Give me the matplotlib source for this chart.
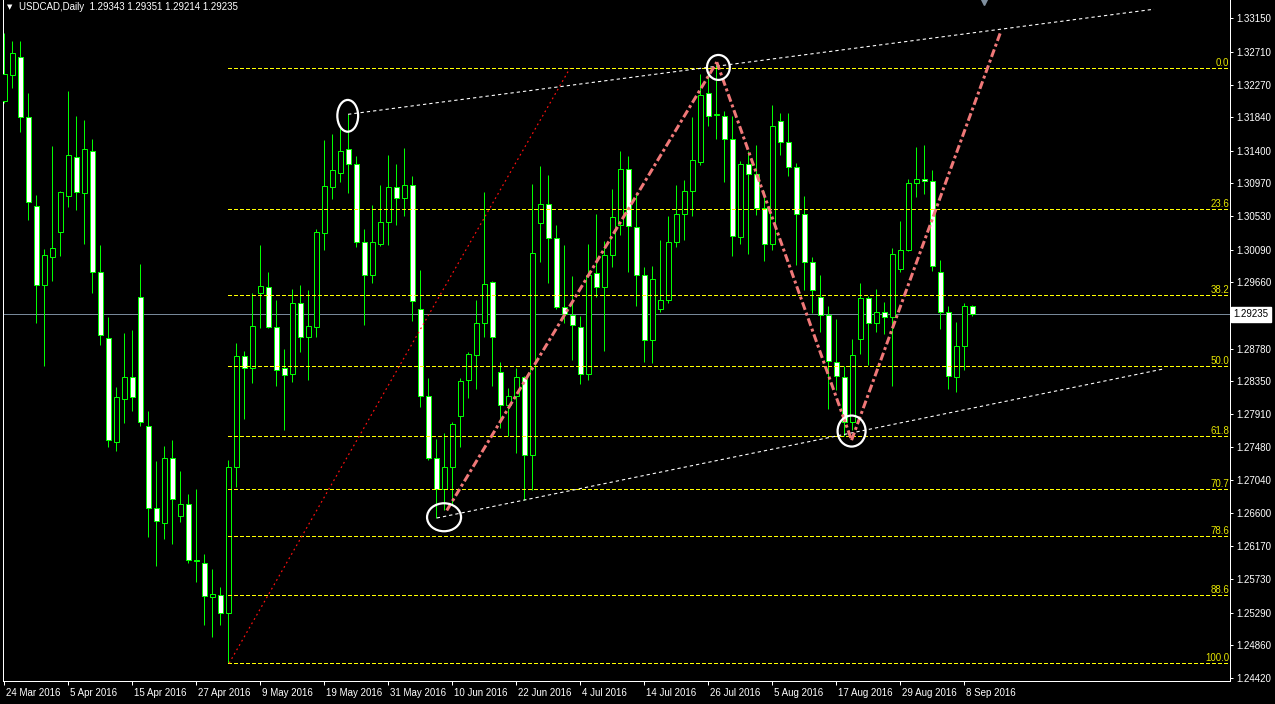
import matplotlib
matplotlib.use("Agg")
import matplotlib.pyplot as plt
import matplotlib.transforms as mtransforms
from matplotlib.patches import Ellipse

plt.rcParams['font.family'] = ['Liberation Sans', 'DejaVu Sans']
plt.rcParams['font.size'] = 7
plt.rcParams['lines.scale_dashes'] = False

# daily USDCAD candles, 24 Mar 2016 .. 9 Sep 2016
opens = [1.3205, 1.3240, 1.3264, 1.3184, 1.3067, 1.2962, 1.2999, 1.3032, 1.3080, 1.3132,
         1.3084, 1.3139, 1.2979, 1.2892, 1.2755, 1.2812, 1.2841, 1.2946, 1.2776, 1.2667,
         1.2648, 1.2733, 1.2656, 1.2673, 1.2599, 1.2595, 1.2549, 1.2552, 1.2528, 1.2722,
         1.2868, 1.2852, 1.2951, 1.2960, 1.2907, 1.2852, 1.2844, 1.2938, 1.2894, 1.2907,
         1.3031, 1.3092, 1.3111, 1.3142, 1.3122, 1.3019, 1.2976, 1.3016, 1.3046, 1.3092,
         1.3077, 1.3094, 1.2931, 1.2816, 1.2734, 1.2692, 1.2722, 1.2789, 1.2836, 1.2870,
         1.2912, 1.2966, 1.2847, 1.2804, 1.2816, 1.2841, 1.2738, 1.3044, 1.3070, 1.3024,
         1.2933, 1.2923, 1.2907, 1.2844, 1.2978, 1.2959, 1.3002, 1.3042, 1.3115, 1.3039,
         1.2976, 1.2890, 1.2931, 1.2943, 1.3019, 1.3056, 1.3086, 1.3125, 1.3216, 1.3187,
         1.3186, 1.3155, 1.3026, 1.3122, 1.3109, 1.3064, 1.3017, 1.3179, 1.3151, 1.3118,
         1.3056, 1.2992, 1.2947, 1.2922, 1.2861, 1.2841, 1.2781, 1.2891, 1.2945, 1.2912,
         1.2926, 1.2920, 1.2983, 1.3009, 1.3097, 1.3103, 1.3100, 1.2980, 1.2927, 1.2841,
         1.2882, 1.29343]
highs = [1.3295, 1.3285, 1.3285, 1.3216, 1.3081, 1.3010, 1.3146, 1.3087, 1.3219, 1.3186,
         1.3180, 1.3155, 1.3015, 1.2920, 1.2827, 1.2899, 1.2903, 1.2990, 1.2796, 1.2729,
         1.2749, 1.2757, 1.2716, 1.2686, 1.2693, 1.2606, 1.2587, 1.2563, 1.2731, 1.2885,
         1.2875, 1.2951, 1.3015, 1.2979, 1.2942, 1.2877, 1.2957, 1.2962, 1.2956, 1.3036,
         1.3154, 1.3162, 1.3170, 1.3188, 1.3133, 1.3036, 1.3068, 1.3095, 1.3134, 1.3122,
         1.3143, 1.3106, 1.2982, 1.2839, 1.2759, 1.2766, 1.2781, 1.2839, 1.2873, 1.2942,
         1.3085, 1.2967, 1.2860, 1.2826, 1.2852, 1.2842, 1.3096, 1.3120, 1.3108, 1.3042,
         1.3015, 1.2974, 1.2921, 1.3016, 1.3056, 1.3020, 1.3089, 1.3139, 1.3133, 1.3083,
         1.2986, 1.2987, 1.3022, 1.3053, 1.3095, 1.3101, 1.3184, 1.3241, 1.3244, 1.3256,
         1.3192, 1.3186, 1.3126, 1.3140, 1.3147, 1.3086, 1.3200, 1.3190, 1.3190, 1.3124,
         1.3080, 1.2999, 1.2975, 1.2934, 1.2917, 1.2855, 1.2891, 1.2965, 1.2948, 1.2957,
         1.2940, 1.3011, 1.3047, 1.3102, 1.3145, 1.3147, 1.3114, 1.2995, 1.2934, 1.2913,
         1.2938, 1.29351]
lows = [1.3203, 1.3223, 1.3165, 1.3048, 1.2912, 1.2855, 1.2967, 1.3001, 1.3066, 1.3061,
        1.3017, 1.2951, 1.2883, 1.2748, 1.2743, 1.2780, 1.2796, 1.2776, 1.2629, 1.2591,
        1.2626, 1.2620, 1.2649, 1.2594, 1.2570, 1.2513, 1.2497, 1.2512, 1.2462, 1.2695,
        1.2785, 1.2832, 1.2905, 1.2905, 1.2828, 1.2770, 1.2834, 1.2873, 1.2836, 1.2893,
        1.3009, 1.3076, 1.3098, 1.3084, 1.3013, 1.2909, 1.2965, 1.3014, 1.3015, 1.3041,
        1.3054, 1.2914, 1.2801, 1.2731, 1.2654, 1.2665, 1.2671, 1.2748, 1.2813, 1.2825,
        1.2894, 1.2828, 1.2773, 1.2762, 1.2740, 1.2678, 1.2691, 1.2992, 1.2965, 1.2930,
        1.2912, 1.2863, 1.2831, 1.2837, 1.2947, 1.2875, 1.2986, 1.3028, 1.2980, 1.2935,
        1.2861, 1.2859, 1.2926, 1.2939, 1.3012, 1.3022, 1.3054, 1.3121, 1.3173, 1.3155,
        1.3099, 1.3000, 1.3016, 1.3003, 1.3055, 1.2994, 1.3008, 1.3134, 1.3107, 1.2989,
        1.2956, 1.2925, 1.2900, 1.2798, 1.2823, 1.2762, 1.2770, 1.2871, 1.2856, 1.2900,
        1.2898, 1.2829, 1.2979, 1.3007, 1.3079, 1.3082, 1.2981, 1.2904, 1.2825, 1.2821,
        1.2850, 1.29214]
closes = [1.3241, 1.3269, 1.3184, 1.3072, 1.2962, 1.3002, 1.3011, 1.3085, 1.3134, 1.3085,
          1.3142, 1.2979, 1.2896, 1.2757, 1.2814, 1.2840, 1.2814, 1.2781, 1.2667, 1.2650,
          1.2733, 1.2679, 1.2673, 1.2599, 1.2597, 1.2551, 1.2554, 1.2528, 1.2722, 1.2868,
          1.2852, 1.2908, 1.2961, 1.2907, 1.2850, 1.2843, 1.2939, 1.2894, 1.2908, 1.3032,
          1.3093, 1.3114, 1.3140, 1.3122, 1.3019, 1.2976, 1.3019, 1.3046, 1.3092, 1.3077,
          1.3095, 1.2941, 1.2816, 1.2734, 1.2692, 1.2722, 1.2779, 1.2835, 1.2871, 1.2912,
          1.2964, 1.2894, 1.2804, 1.2816, 1.2841, 1.2738, 1.3005, 1.3070, 1.3024, 1.2933,
          1.2924, 1.2909, 1.2844, 1.2976, 1.2959, 1.3002, 1.3052, 1.3115, 1.3040, 1.2976,
          1.2889, 1.2970, 1.2943, 1.3019, 1.3056, 1.3087, 1.3127, 1.3214, 1.3186, 1.3188,
          1.3155, 1.3027, 1.3122, 1.3109, 1.3064, 1.3017, 1.3173, 1.3151, 1.3118, 1.3056,
          1.2992, 1.2955, 1.2922, 1.2862, 1.2842, 1.2781, 1.2869, 1.2945, 1.2912, 1.2926,
          1.2920, 1.3003, 1.3009, 1.3097, 1.3103, 1.3100, 1.2987, 1.2927, 1.2842, 1.2882,
          1.2934, 1.29235]

date_labels = ['24 Mar 2016', '5 Apr 2016', '15 Apr 2016', '27 Apr 2016', '9 May 2016',
               '19 May 2016', '31 May 2016', '10 Jun 2016', '22 Jun 2016', '4 Jul 2016',
               '14 Jul 2016', '26 Jul 2016', '5 Aug 2016', '17 Aug 2016', '29 Aug 2016',
               '8 Sep 2016']
date_bars = list(range(0, 121, 8))

price_ticks = [1.33150, 1.32710, 1.32270, 1.31840, 1.31400, 1.30970, 1.30530, 1.30090,
               1.29660, 1.28780, 1.28350, 1.27910, 1.27480, 1.27040, 1.26600, 1.26170,
               1.25730, 1.25290, 1.24860, 1.24420]
last_price = 1.29235

# fibonacci retracement (100 at the april low, 0 at the top)
fib_high = 1.3249
fib_low = 1.2462
fib_start = 28
fib_levels = [0.0, 23.6, 38.2, 50.0, 61.8, 70.7, 78.6, 88.6, 100.0]

# drawn objects: (bar, price) pairs
fib_line = [(28.1, 1.2462), (70.7, 1.3249)]
upper_trend = [(42.96, 1.3188), (143.7, 1.3327)]
lower_trend = [(54.05, 1.2654), (144.8, 1.2851)]
zigzag = [(55.3, 1.2664), (89.05, 1.3257), (105.9, 1.2757), (124.5, 1.3296)]
circles = [(42.92, 1.3186, 2.6, 0.0042), (54.96, 1.2655, 4.25, 0.0037),
           (89.25, 1.3250, 2.85, 0.0033), (105.9, 1.2769, 3.5, 0.0041)]
shift_marker_x = 122.4

px = 0.72  # one pixel in points at dpi 100
green = '#00ff00'

fig = plt.figure(figsize=(12.75, 7.04), dpi=100, facecolor='black')
ax = fig.add_axes([3 / 1275, 23 / 704, 1227 / 1275, 681 / 704])
ax.set_facecolor('black')

n = len(opens)
xs = list(range(n))

# current price line behind the bars
ax.axhline(last_price, color='#778899', lw=px, zorder=1)

# candles: wick then body (bull = black body, bear = white body)
ax.vlines(xs, lows, highs, color=green, lw=px, zorder=2)
bottoms = [min(o, c) for o, c in zip(opens, closes)]
heights = [abs(c - o) for o, c in zip(opens, closes)]
fills = ['black' if c >= o else 'white' for o, c in zip(opens, closes)]
ax.bar(xs, heights, bottom=bottoms, width=0.6, color=fills, edgecolor=green,
       linewidth=px, zorder=3)

# fibo levels
ytrans = mtransforms.blended_transform_factory(ax.transAxes, ax.transData)
for lv in fib_levels:
    y = fib_high - lv / 100 * (fib_high - fib_low)
    ax.plot([fib_start, 160], [y, y], color='#ffff00', lw=px,
            dashes=[4 * px, 2.3 * px], antialiased=False, zorder=4)
    ax.text(0.9992, y, '%.1f' % lv, color='#e6e600', ha='right', va='bottom',
            transform=ytrans, zorder=6)

# thin red dotted line of the fibo
ax.plot([p[0] for p in fib_line], [p[1] for p in fib_line], color='#ff1010',
        lw=1.2 * px, dashes=[1.8 * px, 3.2 * px], zorder=4)

for line in (upper_trend, lower_trend):
    ax.plot([p[0] for p in line], [p[1] for p in line], color='white',
            lw=1.1 * px, dashes=[3.3 * px, 3 * px], zorder=5)

for a, b in zip(zigzag[:-1], zigzag[1:]):
    ax.plot([a[0], b[0]], [a[1], b[1]], color='#f07878', lw=3 * px,
            dashes=[8 * px, 3 * px, 3 * px, 3 * px], zorder=5)

for cx, cy, w, h in circles:
    ax.add_patch(Ellipse((cx, cy), w, h, fill=False, ec='white', lw=1.6, zorder=6))

ax.set_xlim(-0.17, 153.2)
ax.set_ylim(1.24384, 1.33392)

ax.plot([shift_marker_x], [1.33392], marker='v', ms=7, color='#8090a0',
        clip_on=False, zorder=7)

# axes / ticks
for side in ('left', 'right', 'bottom'):
    ax.spines[side].set_color('white')
    ax.spines[side].set_linewidth(px)
ax.spines['top'].set_visible(False)

ax.yaxis.tick_right()
ax.set_yticks(price_ticks)
ax.set_yticklabels(['%.5f' % v for v in price_ticks])
ax.tick_params(axis='y', colors='white', length=3 * px, width=px, pad=3.5 * px,
               labelsize=7)

ax.set_xticks(date_bars)
ax.set_xticklabels(date_labels)
ax.tick_params(axis='x', colors='white', length=4 * px, width=px, pad=3 * px,
               labelsize=7)
shift = mtransforms.ScaledTranslation(2 / 100, 0, fig.dpi_scale_trans)
for lab in ax.get_xticklabels():
    lab.set_horizontalalignment('left')
    lab.set_transform(lab.get_transform() + shift)

ax.annotate('%.5f' % last_price, xy=(1, last_price),
            xycoords=('axes fraction', 'data'), xytext=(3.2 * px, 0),
            textcoords='offset points', ha='left', va='center', color='black',
            fontsize=7, annotation_clip=False,
            bbox=dict(boxstyle='square,pad=0.25', fc='white', ec='white'))

# header
fig.text(10 / 1275, 1 - 7.5 / 704, '\u25bc', color='white', fontsize=5,
         family='DejaVu Sans', ha='center', va='center')
fig.text(19 / 1275, 1 - 7.5 / 704,
         'USDCAD,Daily  %.5f %.5f %.5f %.5f' % (opens[-1], highs[-1], lows[-1], closes[-1]),
         color='white', fontsize=7, ha='left', va='center')

fig.savefig('out.png', dpi=100, facecolor='black')
